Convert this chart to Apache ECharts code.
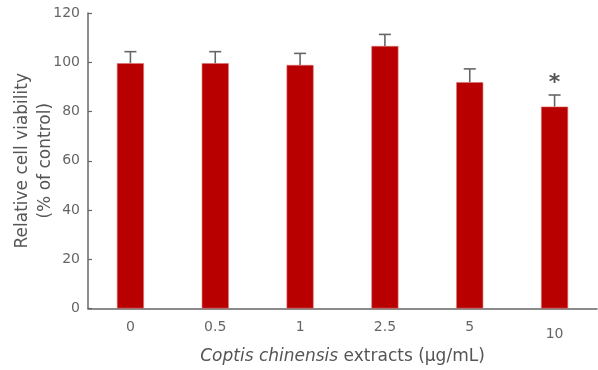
<!DOCTYPE html>
<html>
<head>
<meta charset="utf-8">
<script src="https://cdn.jsdelivr.net/npm/echarts@6/dist/echarts.min.js"></script>
<style>
  html, body { margin: 0; padding: 0; background: #fff; }
  #chart { width: 598px; height: 370px; }
</style>
</head>
<body>
<div id="chart"></div>
<script>
// doses and measured viability (% of control)
let doses = ['0', '0.5', '1', '2.5', '5', '10'];
let viability = [99.6, 99.6, 98.9, 106.6, 91.9, 82.0];
let errorTop = [104.3, 104.3, 103.6, 111.3, 97.3, 86.7];
let marks = ['', '', '', '', '', '*'];
let yTicks = [0, 20, 40, 60, 80, 100, 120];

let chart = echarts.init(document.getElementById('chart'));
let fontFamily = 'DejaVu Sans';
let gray = '#666';

// error bar: vertical line from bar top to upper value, plus a cap
function renderError(params, api) {
    let idx = api.value(0);
    let top = api.coord([idx, api.value(2)]);
    let base = api.coord([idx, api.value(1)]);
    let half = 6;
    let children = [
        { type: 'line', shape: { x1: top[0], y1: base[1], x2: top[0], y2: top[1] }, style: { stroke: gray, lineWidth: 1.6 } },
        { type: 'line', shape: { x1: top[0] - half, y1: top[1], x2: top[0] + half, y2: top[1] }, style: { stroke: gray, lineWidth: 1.6 } }
    ];
    let mark = marks[idx];
    if (mark) {
        children.push({
            type: 'text',
            style: { text: mark, x: top[0], y: top[1] - 1, align: 'center', verticalAlign: 'bottom', fill: '#555', font: 'bold 22px ' + fontFamily }
        });
    }
    return { type: 'group', children: children };
}

const option = {
    animation: false,
    grid: { left: 88, right: 1, top: 13, bottom: 61.5, outerBoundsMode: 'none', containLabel: false },
    xAxis: {
        type: 'category',
        data: doses,
        axisLine: { lineStyle: { color: gray, width: 1.5 } },
        axisTick: { inside: true, length: 4, lineStyle: { color: gray, width: 1.2 } },
        axisLabel: {
            interval: 0,
            color: gray, fontFamily: fontFamily, fontSize: 14, margin: 12,
            formatter: function (v) { return v === '10' ? '{low|' + v + '}' : v; },
            rich: { low: { color: gray, fontFamily: fontFamily, fontSize: 14, padding: [7, 0, 0, 0] } }
        },
        name: '{it|Coptis chinensis} extracts (μg/mL)',
        nameLocation: 'middle',
        nameMoveOverlap: false,
        nameGap: 40,
        nameTextStyle: {
            color: '#555', fontFamily: fontFamily, fontSize: 17,
            rich: { it: { fontStyle: 'italic', color: '#555', fontFamily: fontFamily, fontSize: 17 } }
        }
    },
    yAxis: {
        type: 'value',
        min: yTicks[0],
        max: yTicks[yTicks.length - 1],
        interval: 20,
        splitLine: { show: false },
        axisLine: { show: true, lineStyle: { color: gray, width: 1.5 } },
        axisTick: { show: true, inside: true, length: 4, lineStyle: { color: gray, width: 1.2 } },
        axisLabel: { color: gray, fontFamily: fontFamily, fontSize: 14, margin: 8 },
        name: 'Relative cell viability\n(% of control)',
        nameLocation: 'middle',
        nameMoveOverlap: false,
        nameGap: 31,
        nameTextStyle: { color: '#555', fontFamily: fontFamily, fontSize: 17, lineHeight: 23, align: 'center' }
    },
    series: [
        {
            type: 'bar',
            data: viability,
            barWidth: 27,
            itemStyle: { color: '#b80000', borderColor: '#d77070', borderWidth: 0.6 }
        },
        {
            type: 'custom',
            renderItem: renderError,
            data: viability.map((v, i) => [i, v, errorTop[i]]),
            z: 3
        }
    ]
};
chart.setOption(option);
</script>
</body>
</html>
